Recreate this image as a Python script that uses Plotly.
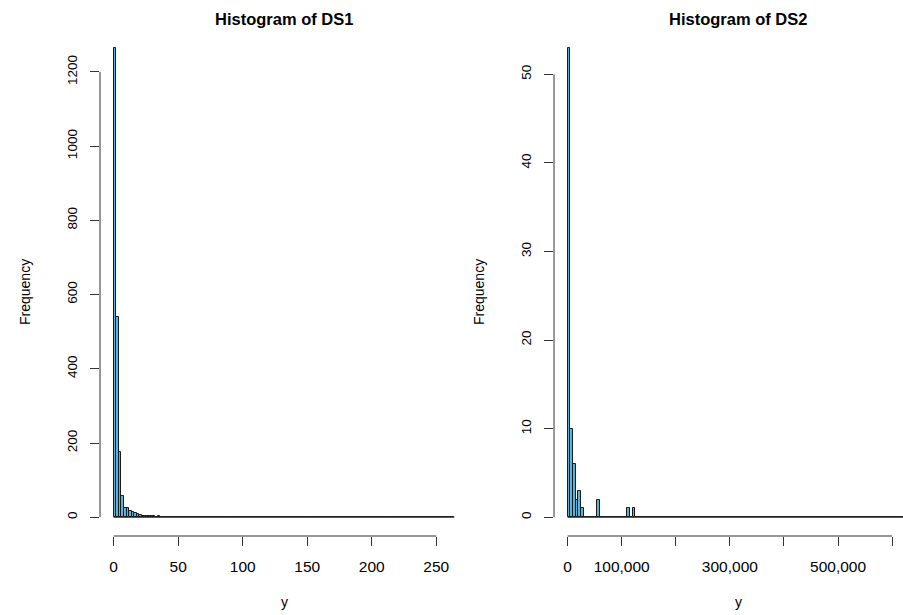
import numpy as np
import plotly.graph_objects as go

# ---------------- data ----------------
ds1_break_width = 2
ds1_counts = [
    1265, 540, 175, 57, 25, 24, 16, 13, 11, 9, 5, 4,
    3, 3, 2, 2, 1, 2, 1, 1, 1, 0, 1, 1,
    0, 1, 1, 0, 1, 1, 0, 0, 1, 0, 0, 0,
    0, 0, 0, 0, 0, 0, 0, 0, 0, 0, 0, 0,
    0, 0, 0, 0, 0, 0, 0, 0, 0, 0, 0, 0,
    0, 0, 0, 0, 0, 0, 0, 0, 0, 0, 0, 1,
    0, 0, 0, 0, 1, 0, 0, 0, 0, 0, 0, 0,
    0, 0, 0, 0, 0, 0, 0, 0, 0, 0, 0, 0,
    0, 0, 0, 0, 0, 0, 0, 0, 0, 0, 0, 0,
    0, 0, 0, 0, 0, 0, 0, 0, 0, 0, 0, 0,
    0, 0, 0, 0, 0, 0, 0, 0, 0, 0, 0, 1,
]
ds1_xticks = [0, 50, 100, 150, 200, 250]
ds1_xticktext = ["0", "50", "100", "150", "200", "250"]
ds1_yticks = [0, 200, 400, 600, 800, 1000, 1200]

ds2_break_width = 5000
ds2_counts = [
    53, 10, 6, 2, 3, 1, 0, 0, 0, 0, 0, 2,
    0, 0, 0, 0, 0, 0, 0, 0, 0, 0, 1, 0,
    1, 0, 0, 0, 0, 0, 0, 0, 0, 0, 0, 0,
    0, 0, 0, 0, 0, 0, 0, 0, 0, 0, 0, 0,
    0, 0, 0, 0, 0, 0, 0, 0, 0, 0, 0, 0,
    0, 0, 0, 0, 0, 0, 0, 0, 0, 0, 0, 0,
    0, 0, 0, 0, 0, 0, 0, 0, 0, 0, 0, 0,
    0, 0, 0, 0, 0, 0, 0, 0, 0, 0, 0, 0,
    0, 0, 0, 0, 0, 0, 0, 0, 0, 0, 0, 0,
    0, 0, 0, 0, 0, 0, 0, 0, 0, 0, 0, 0,
    0, 0, 0, 0, 0, 0,
]
ds2_xticks = [0, 100000, 200000, 300000, 400000, 500000, 600000]
ds2_xticktext = ["0", "100,000", "", "300,000", "", "500,000", ""]
ds2_yticks = [0, 10, 20, 30, 40, 50]

# ---------------- layout helpers ----------------
W, H = 903, 615
FONT = "Liberation Sans, Arial, Helvetica, sans-serif"
XTICK = 15.5
YTICK = 13.5
LAB = 14
TITLE = 16.5
FILL = "#62B0D8"
EDGE = "#1a1a1a"
AX = "#333333"


def px(x):
    return x / W


def py(y):
    return 1 - y / H


ydom = [py(536), py(29)]
x1dom = [px(100), px(468)]
x2dom = [px(554), 1.0]

fig = go.Figure()


def add_hist(counts, bw, xa, ya):
    counts = np.array(counts)
    lefts = np.arange(len(counts)) * bw
    centers = lefts + bw / 2
    fig.add_trace(go.Bar(
        x=centers, y=counts, width=[bw] * len(counts),
        marker=dict(color=FILL, line=dict(color=EDGE, width=1)),
        xaxis=xa, yaxis=ya, showlegend=False, hoverinfo="x+y",
    ))
    # zero-count bins drawn as flat outline (R style)
    fig.add_shape(type="line", xref=xa, yref=ya,
                  x0=lefts[0], x1=lefts[-1] + bw, y0=0, y1=0,
                  line=dict(color=EDGE, width=1), layer="below")
    return lefts[-1] + bw


ds1_max_break = add_hist(ds1_counts, ds1_break_width, "x", "y")
ds2_max_break = add_hist(ds2_counts, ds2_break_width, "x2", "y2")

ds1_ymax = max(ds1_counts)
ds2_ymax = max(ds2_counts)
ext1 = 0.04 * ds1_max_break
ext2 = 0.04 * ds2_max_break
# right panel runs past the image edge (cropped), keep the same px scale as R
scale2 = (x2dom[1] - x2dom[0]) * W
full2 = (468 - 100)
right2 = -ext2 + (ds2_max_break + 2 * ext2) * scale2 / full2

xaxis_common = dict(
    showgrid=False, zeroline=False, showline=False,
    ticks="outside", ticklen=9, tickwidth=1, tickcolor=AX,
    tickfont=dict(family=FONT, size=XTICK, color="#000"),
    ticklabelstandoff=7,
)
yaxis_common = dict(
    showgrid=False, zeroline=False, showline=False,
    ticks="outside", ticklen=9, tickwidth=1, tickcolor=AX,
    tickfont=dict(family=FONT, size=YTICK, color="#000"),
    tickangle=-90, ticklabelstandoff=8,
)

fig.update_layout(
    width=W, height=H,
    margin=dict(l=0, r=0, t=0, b=0),
    paper_bgcolor="white", plot_bgcolor="white",
    bargap=0,
    xaxis=dict(domain=x1dom, anchor="y", range=[-ext1, ds1_max_break + ext1],
               tickvals=ds1_xticks, ticktext=ds1_xticktext, **xaxis_common),
    yaxis=dict(domain=ydom, anchor="x", range=[-0.04 * ds1_ymax, 1.04 * ds1_ymax],
               tickvals=ds1_yticks, **yaxis_common),
    xaxis2=dict(domain=x2dom, anchor="y2", range=[-ext2, right2],
                tickvals=ds2_xticks, ticktext=ds2_xticktext, **xaxis_common),
    yaxis2=dict(domain=ydom, anchor="x2", range=[-0.04 * ds2_ymax, 1.04 * ds2_ymax],
                tickvals=ds2_yticks, **yaxis_common),
)

# axis lines from first to last tick (R style)
for xa, ya, xt, yt, xd in [("x", "y", ds1_xticks, ds1_yticks, x1dom),
                            ("x2", "y2", ds2_xticks, ds2_yticks, x2dom)]:
    fig.add_shape(type="line", xref=xa, yref="paper", x0=xt[0], x1=xt[-1],
                  y0=ydom[0], y1=ydom[0], line=dict(color=AX, width=1))
    fig.add_shape(type="line", xref="paper", yref=ya, x0=xd[0], x1=xd[0],
                  y0=yt[0], y1=yt[-1], line=dict(color=AX, width=1))

annos = [
    dict(text="<b>Histogram of DS1</b>", x=px(284), y=py(19), size=TITLE, angle=0),
    dict(text="<b>Histogram of DS2</b>", x=px(738), y=py(19), size=TITLE, angle=0),
    dict(text="y", x=px(284), y=py(602), size=LAB, angle=0),
    dict(text="y", x=px(738), y=py(602), size=LAB, angle=0),
    dict(text="Frequency", x=px(25), y=py(292), size=LAB, angle=-90),
    dict(text="Frequency", x=px(479), y=py(292), size=LAB, angle=-90),
]
for a in annos:
    fig.add_annotation(text=a["text"], x=a["x"], y=a["y"], xref="paper", yref="paper",
                       xanchor="center", yanchor="middle", showarrow=False,
                       textangle=a["angle"],
                       font=dict(family=FONT, size=a["size"], color="#000"))

fig.write_html("out.html")
